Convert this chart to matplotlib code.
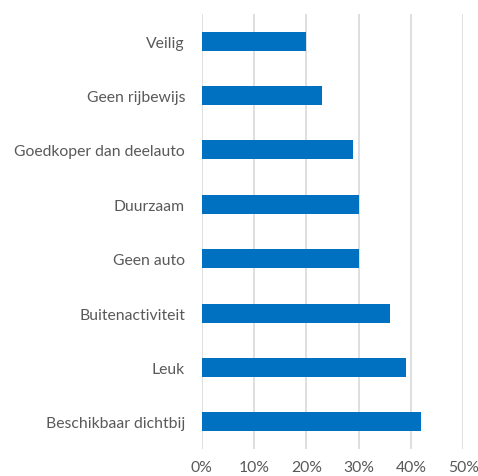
import matplotlib.pyplot as plt
import numpy as np

plt.rcParams['font.family'] = ['Lato', 'DejaVu Sans']

categories = ['Veilig', 'Geen rijbewijs', 'Goedkoper dan deelauto', 'Duurzaam',
              'Geen auto', 'Buitenactiviteit', 'Leuk', 'Beschikbaar dichtbij']
values = [20, 23, 29, 30, 30, 36, 39, 42]
xticks = [0, 10, 20, 30, 40, 50]
xlabels = ['0%', '10%', '20%', '30%', '40%', '50%']

fig = plt.figure(figsize=(4.78, 4.77), dpi=100)
ax = fig.add_axes([0.422, 0.0566, 0.547, 0.912])

y = np.arange(len(categories))
ax.barh(y, values, height=0.35, color='#0070C0', zorder=3)
ax.set_ylim(len(categories) - 0.5, -0.5)
ax.set_xlim(0, 50)
ax.set_yticks(y)
ax.set_yticklabels(categories)
ax.set_xticks(xticks)
ax.set_xticklabels(xlabels)
ax.grid(axis='x', color='#d9d9d9', linewidth=1.2, zorder=0)
for s in ax.spines.values():
    s.set_visible(False)
ax.tick_params(length=0, labelsize=11.3, colors='#595959')
ax.tick_params(axis='y', pad=12)
ax.tick_params(axis='x', pad=8)

fig.savefig('out.png', dpi=100)
